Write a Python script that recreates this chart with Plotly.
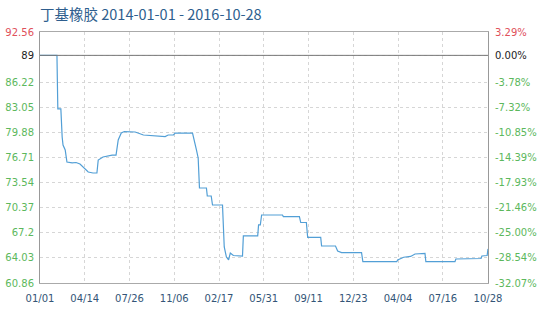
import plotly.graph_objects as go

dates = ["2014-01-01","2014-02-09","2014-02-11","2014-02-18","2014-02-21","2014-02-23","2014-02-28",
         "2014-03-04","2014-03-16","2014-03-25","2014-04-03","2014-04-12","2014-04-22","2014-05-03",
         "2014-05-12","2014-05-15","2014-05-26","2014-06-16","2014-06-25","2014-06-30","2014-07-07",
         "2014-07-14","2014-08-08","2014-08-27","2014-09-23","2014-10-09","2014-10-16","2014-10-23",
         "2014-11-04","2014-11-08","2014-12-13","2014-12-18","2014-12-27","2014-12-31","2015-01-03",
         "2015-01-19","2015-01-21","2015-01-30","2015-02-02","2015-02-25","2015-03-01","2015-03-06",
         "2015-03-11","2015-03-15","2015-03-22","2015-04-12","2015-04-14","2015-05-17","2015-05-19",
         "2015-05-23","2015-05-26","2015-07-13","2015-07-15","2015-08-21","2015-08-24","2015-09-06",
         "2015-09-09","2015-10-09","2015-10-11","2015-11-12","2015-11-17","2015-11-26","2016-01-11",
         "2016-01-14","2016-04-01","2016-04-03","2016-04-17","2016-05-03","2016-05-13","2016-06-05",
         "2016-06-07","2016-08-13","2016-08-15","2016-10-12","2016-10-14","2016-10-26","2016-10-28"]
prices = [89.61,89.61,82.84,82.84,79.30,78.29,77.66,
          76.14,76.02,76.08,75.89,75.38,74.88,74.75,
          74.75,76.39,76.77,77.02,77.02,78.92,79.80,
          79.99,79.93,79.55,79.49,79.36,79.36,79.55,
          79.55,79.80,79.84,79.80,77.66,76.65,72.86,
          72.86,71.85,71.85,70.71,70.71,65.41,64.14,
          63.77,64.65,64.33,64.27,66.80,66.80,68.19,
          68.19,69.45,69.45,69.24,69.24,68.50,68.50,
          66.61,66.61,65.53,65.53,64.90,64.69,64.69,
          63.55,63.55,63.77,64.11,64.21,64.52,64.59,
          63.55,63.55,63.89,63.95,64.27,64.33,65.16]

base_value = 89.61
y_tick_vals = [60.86, 64.03, 67.2, 70.37, 73.54, 76.71, 79.88, 83.05, 86.22, 89.61, 92.56]
y_tick_text = ["60.86", "64.03", "67.2", "70.37", "73.54", "76.71", "79.88", "83.05", "86.22", "89", "92.56"]
pct_tick_text = ["-32.07%", "-28.54%", "-25.00%", "-21.46%", "-17.93%", "-14.39%", "-10.85%",
                 "-7.32%", "-3.78%", "0.00%", "3.29%"]
x_tick_vals = ["2014-01-01", "2014-04-14", "2014-07-26", "2014-11-06", "2015-02-17", "2015-05-31",
               "2015-09-11", "2015-12-23", "2016-04-04", "2016-07-16", "2016-10-28"]
x_tick_text = ["01/01", "04/14", "07/26", "11/06", "02/17", "05/31", "09/11", "12/23", "04/04", "07/16", "10/28"]
title_text = "丁基橡胶 2014-01-01 - 2016-10-28"

GREEN = "#5cb85c"
RED = "#e0505a"

def colorize(texts, vals):
    out = []
    for t, v in zip(texts, vals):
        if abs(v - base_value) < 1e-6:
            c = "#222222"
        elif v > base_value:
            c = RED
        else:
            c = GREEN
        out.append(f"<span style='color:{c}'>{t}</span>")
    return out

yr = [60.86, 92.56]

fig = go.Figure()
fig.add_trace(go.Scatter(x=dates, y=prices, mode="lines",
                         line=dict(color="#529fd6", width=1.2), showlegend=False))
fig.add_trace(go.Scatter(x=[dates[0]], y=[prices[0]], yaxis="y2", mode="lines",
                         line=dict(width=0), showlegend=False, hoverinfo="skip"))

fig.add_shape(type="line", xref="paper", x0=0, x1=1, yref="y", y0=base_value, y1=base_value,
              line=dict(color="#777777", width=1))

fig.update_layout(
    width=540, height=310,
    margin=dict(l=40, r=52, t=32, b=27, autoexpand=False),
    paper_bgcolor="white", plot_bgcolor="white",
    title=dict(text=title_text, x=40/540, xref="container", xanchor="left",
               y=1-15/310, yref="container", yanchor="middle",
               font=dict(family="Noto Sans CJK SC", size=14.5, color="#2e5e8e")),
    xaxis=dict(range=["2014-01-01", "2016-10-28"], tickvals=x_tick_vals, ticktext=x_tick_text,
               showgrid=True, gridcolor="#d6d6d6", griddash="dot", gridwidth=1,
               showline=True, linecolor="#aaaaaa", mirror=True, zeroline=False, automargin=False,
               tickfont=dict(family="DejaVu Sans", size=10, color="#335577"),
               ticks="outside", ticklen=6, tickcolor="rgba(0,0,0,0)"),
    yaxis=dict(range=yr, tickvals=y_tick_vals, ticktext=colorize(y_tick_text, y_tick_vals),
               showgrid=True, gridcolor="#d6d6d6", griddash="dot", gridwidth=1,
               showline=True, linecolor="#999999", zeroline=False, automargin=False,
               tickfont=dict(family="DejaVu Sans", size=10),
               ticks="outside", ticklen=3, tickcolor="rgba(0,0,0,0)"),
    yaxis2=dict(range=yr, overlaying="y", side="right", tickvals=y_tick_vals,
                ticktext=colorize(pct_tick_text, y_tick_vals), showgrid=False,
                showline=True, linecolor="#999999", zeroline=False, automargin=False,
                tickfont=dict(family="DejaVu Sans", size=10),
                ticks="outside", ticklen=4, tickcolor="rgba(0,0,0,0)"),
)

fig.write_html("out.html")
